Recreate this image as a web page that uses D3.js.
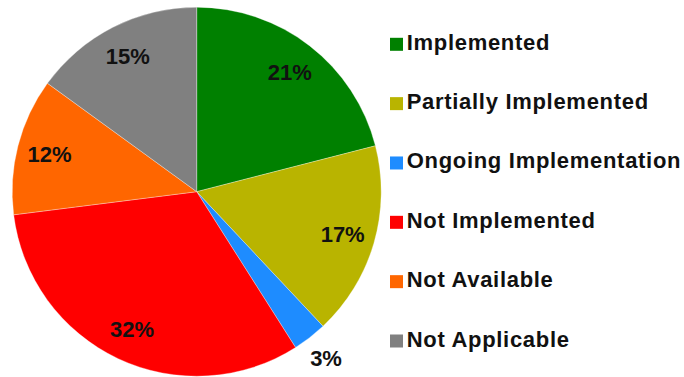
<!DOCTYPE html>
<html>
<head>
<meta charset="utf-8">
<script src="https://cdn.jsdelivr.net/npm/d3@7"></script>
<style>
  html, body { margin: 0; padding: 0; background: #fff; }
  svg { display: block; }
  text { font-family: "Liberation Sans", Arial, sans-serif; font-weight: bold; fill: #111; }
</style>
</head>
<body>
<svg id="chart" width="684" height="377"></svg>
<script>
const categories = ["Implemented", "Partially Implemented", "Ongoing Implementation", "Not Implemented", "Not Available", "Not Applicable"];
const values = [21, 17, 3, 32, 12, 15];
const colors = ["#008000", "#B9B400", "#1E8CFF", "#FF0000", "#FF6600", "#808080"];
const labels = ["21%", "17%", "3%", "32%", "12%", "15%"];
const labelOutside = [false, false, true, false, false, false];

const svg = d3.select("#chart");
const cx = 196.7, cy = 191.7, R = 184.5;

const color = d3.scaleOrdinal().domain(categories).range(colors);
const pie = d3.pie().sort(null).value(d => d.value);
const data = categories.map((c, i) => ({ cat: c, value: values[i], label: labels[i], out: labelOutside[i] }));
const arcs = pie(data);

const arc = d3.arc().innerRadius(0).outerRadius(R);
const labelArc = d3.arc().innerRadius(152).outerRadius(152);
const outArc = d3.arc().innerRadius(211).outerRadius(211);

const g = svg.append("g").attr("transform", `translate(${cx},${cy})`);
g.selectAll("path.slice").data(arcs).enter().append("path")
  .attr("class", "slice")
  .attr("d", arc)
  .attr("fill", d => color(d.data.cat))
  .attr("stroke", "rgba(255,255,255,0.45)")
  .attr("stroke-width", 0.7);

g.selectAll("text.lbl").data(arcs).enter().append("text")
  .attr("class", "lbl")
  .attr("transform", d => `translate(${(d.data.out ? outArc : labelArc).centroid(d)})`)
  .attr("text-anchor", "middle")
  .attr("dy", "0.36em")
  .style("font-size", "22px")
  .text(d => d.data.label);

const legendY = d3.scalePoint().domain(categories).range([44.3, 341]);
const lg = svg.append("g");
const items = lg.selectAll("g.item").data(categories).enter().append("g")
  .attr("class", "item")
  .attr("transform", c => `translate(390,${legendY(c)})`);
items.append("rect")
  .attr("x", 0).attr("y", -6.5).attr("width", 13).attr("height", 13)
  .attr("fill", c => color(c));
items.append("text")
  .attr("x", 16.7).attr("y", 5.5)
  .style("font-size", "22px")
  .style("letter-spacing", "0.7px")
  .text(c => c);
</script>
</body>
</html>
